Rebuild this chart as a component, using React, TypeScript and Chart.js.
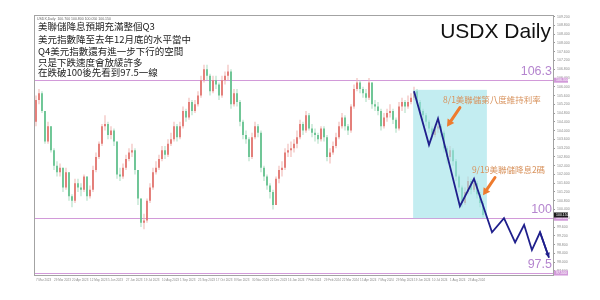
import { useEffect, useRef } from 'react';
import { Chart, registerables } from 'chart.js';

Chart.register(...registerables);

// Daily USDX bars (one bar per slot), oldest first
const firstOpen = 104.4;
const closes = [
  105.4, 105.7, 104.9, 103.5, 104.2, 103.1, 102.4, 102.1, 102.3, 101.4,
  102.1, 101.0, 100.8, 101.6, 101.4, 101.3, 101.9, 101.0, 101.3, 102.2,
  102.8, 103.4, 104.2, 104.3, 103.8, 104.0, 103.5, 102.0, 101.9, 102.3,
  102.7, 103.0, 103.1, 102.2, 100.9, 99.8, 99.9, 100.8, 101.4, 102.1,
  102.3, 102.7, 103.1, 102.9, 103.4, 103.6, 104.2, 103.7, 104.2, 104.9,
  104.6, 105.3, 104.9, 105.2, 105.6, 106.3, 106.8, 106.5, 105.8, 106.3,
  106.1, 105.6, 106.3, 106.5, 106.7, 105.2, 105.7, 105.3, 104.4, 103.8,
  103.6, 102.8, 103.7, 104.2, 103.9, 102.3, 101.9, 101.5, 101.2, 100.6,
  101.8, 102.2, 102.3, 103.0, 103.1, 103.2, 103.4, 103.7, 104.3, 104.0,
  104.7, 104.1, 103.9, 103.8, 103.6, 104.1, 103.7, 102.8, 103.0, 103.3,
  103.7, 104.2, 104.6, 104.2, 104.0, 105.1, 105.9, 106.2, 105.9, 105.7,
  105.5, 106.2, 105.2, 105.1, 104.9, 104.2, 104.6, 104.8, 104.9, 104.5,
  104.1, 105.1, 105.3, 105.1, 105.3, 105.5, 105.8, 105.3, 104.9, 104.7,
  104.4, 104.1, 103.8, 104.1, 104.2, 103.9, 103.2, 102.8, 103.1, 102.6,
  101.9, 101.4, 100.7, 101.2, 101.7, 101.3, 101.6, 101.1, 100.7, 100.15,
];
const highs = [
  105.6, 105.9, 105.8, 104.9, 104.4, 104.2, 103.2, 102.6, 102.5, 102.3,
  102.3, 102.1, 101.1, 101.8, 101.8, 101.6, 102.0, 101.9, 101.5, 102.4,
  103.0, 103.5, 104.3, 104.7, 104.4, 104.2, 104.1, 103.5, 102.3, 102.5,
  102.9, 103.2, 103.4, 103.2, 102.2, 100.9, 100.2, 100.9, 101.6, 102.3,
  102.6, 102.9, 103.3, 103.3, 103.6, 103.9, 104.4, 104.3, 104.4, 105.1,
  105.0, 105.5, 105.4, 105.4, 105.8, 106.5, 107.0, 107.0, 106.6, 106.5,
  106.5, 106.2, 106.5, 106.7, 107.0, 106.8, 105.9, 105.9, 105.4, 104.5,
  104.0, 103.7, 103.9, 104.4, 104.3, 104.0, 102.4, 102.0, 101.6, 101.3,
  101.9, 102.4, 102.6, 103.2, 103.4, 103.5, 103.6, 104.0, 104.5, 104.4,
  104.9, 104.8, 104.3, 104.1, 103.9, 104.2, 104.2, 103.8, 103.2, 103.5,
  103.9, 104.4, 104.8, 104.7, 104.3, 105.2, 106.1, 106.4, 106.3, 106.0,
  105.9, 106.4, 106.2, 105.4, 105.3, 105.0, 104.8, 105.0, 105.2, 105.0,
  104.6, 105.3, 105.5, 105.4, 105.6, 105.7, 106.0, 105.9, 105.4, 105.0,
  104.8, 104.5, 104.2, 104.3, 104.5, 104.3, 104.0, 103.3, 103.3, 103.2,
  102.7, 102.0, 101.5, 101.4, 101.9, 101.8, 101.8, 101.7, 101.2, 100.8,
];
const lows = [
  104.2, 105.2, 104.8, 103.4, 103.4, 103.0, 102.2, 101.9, 101.9, 101.2,
  101.3, 100.8, 100.5, 100.7, 101.2, 101.0, 101.2, 100.8, 100.9, 101.2,
  102.1, 102.7, 103.3, 104.0, 103.6, 103.6, 103.3, 101.8, 101.7, 101.8,
  102.2, 102.6, 102.8, 102.0, 100.6, 99.6, 99.5, 99.8, 100.7, 101.3,
  102.0, 102.2, 102.6, 102.7, 102.8, 103.3, 103.5, 103.5, 103.6, 104.1,
  104.4, 104.5, 104.7, 104.8, 105.1, 105.5, 106.2, 106.3, 105.6, 105.7,
  105.9, 105.4, 105.5, 106.1, 106.3, 105.0, 105.1, 105.1, 104.2, 103.6,
  103.4, 102.6, 102.7, 103.6, 103.7, 102.1, 101.7, 101.3, 100.9, 100.4,
  100.6, 101.6, 101.9, 102.2, 102.8, 102.8, 103.0, 103.2, 103.6, 103.8,
  103.9, 104.0, 103.7, 103.5, 103.4, 103.5, 103.5, 102.6, 102.5, 102.9,
  103.2, 103.6, 104.1, 104.0, 103.8, 103.9, 105.0, 105.8, 105.7, 105.5,
  105.3, 105.4, 105.0, 104.9, 104.7, 104.0, 104.1, 104.4, 104.6, 104.3,
  103.9, 104.0, 104.9, 104.8, 105.0, 105.2, 105.4, 105.2, 104.7, 104.5,
  104.2, 103.9, 103.6, 103.7, 103.9, 103.7, 103.0, 102.5, 102.6, 102.4,
  101.7, 101.2, 100.5, 100.6, 101.1, 101.1, 101.2, 100.9, 100.5, 100.05,
];

// Time axis labels, one every six bars
const tickBars = [0, 6, 12, 18, 24, 30, 36, 42, 48, 54, 60, 66, 72, 78, 84, 90, 96, 102, 108, 114, 120, 126, 132, 138, 144];
const dateLabels = [
  '7 Mar 2023', '29 Mar 2023', '20 Apr 2023', '12 May 2023', '5 Jun 2023', '27 Jun 2023',
  '19 Jul 2023', '10 Aug 2023', '1 Sep 2023', '25 Sep 2023', '17 Oct 2023', '8 Nov 2023',
  '30 Nov 2023', '22 Dec 2023', '16 Jan 2024', '7 Feb 2024', '29 Feb 2024', '22 Mar 2024',
  '15 Apr 2024', '7 May 2024', '29 May 2024', '19 Jun 2024', '10 Jul 2024', '1 Aug 2024', '23 Aug 2024',
];
const priceTicks = [
  97.6, 98.0, 98.4, 98.8, 99.2, 99.6, 100.0, 100.4, 100.8, 101.2, 101.6, 102.0, 102.4, 102.8, 103.2,
  103.6, 104.0, 104.4, 104.8, 105.2, 105.6, 106.0, 106.4, 106.8, 107.2, 107.6, 108.0, 108.4, 108.8, 109.2,
];

// Projected path (bar slot, price)
const pathBars = [126, 131, 134, 141.3, 146, 152, 156, 159.7, 162.7, 165.3, 168, 171];
const pathPrices = [105.8, 103.35, 104.55, 100.55, 101.8, 99.36, 100.0, 98.9, 99.7, 98.55, 99.36, 98.2];

// Key levels
const levels = [106.3, 100, 97.5];
const levelLabels = ['106.3', '100', '97.5'];

// Highlighted decline zone: bar range and price range
const zoneBars = [125.7, 150.3];
const zonePrices = [105.86, 100];

// Commentary
const notes = [
  '美聯儲降息預期充滿整個Q3',
  '美元指數降至去年12月底的水平當中',
  'Q4美元指數還有進一步下行的空間',
  '只是下跌速度會放緩許多',
  '在跌破100後先看到97.5一線',
];
const eventTexts = ['8/1美聯儲第八度維持利率', '9/19美聯儲降息2碼'];
const eventTextAt = [[135.7, 105.4], [145.3, 102.23]];
const eventArrowFrom = [[141.3, 105.05], [153, 101.86]];
const eventArrowTo = [[137, 104.18], [149, 101.05]];

const opens = closes.map((c, i) => (i === 0 ? firstOpen : closes[i - 1]));
const rising = closes.map((c, i) => c >= opens[i]);

const BODY_INDEX = 1;

function arrow(ctx: CanvasRenderingContext2D, x0: number, y0: number, x1: number, y1: number, color: string, width: number, head: number, headW: number) {
  const ang = Math.atan2(y1 - y0, x1 - x0);
  const bx = x1 - Math.cos(ang) * head;
  const by = y1 - Math.sin(ang) * head;
  ctx.strokeStyle = color;
  ctx.fillStyle = color;
  ctx.lineWidth = width;
  ctx.lineCap = 'round';
  ctx.beginPath();
  ctx.moveTo(x0, y0);
  ctx.lineTo(bx, by);
  ctx.stroke();
  ctx.beginPath();
  ctx.moveTo(x1, y1);
  ctx.lineTo(bx + Math.sin(ang) * headW, by - Math.cos(ang) * headW);
  ctx.lineTo(bx - Math.sin(ang) * headW, by + Math.cos(ang) * headW);
  ctx.closePath();
  ctx.fill();
}

const LEVEL_COLOR = '#d29ad9';
const LEVEL_TEXT = '#b585cf';
const SANS = '"Liberation Sans", Arial, sans-serif';
const CJK = '"Noto Sans CJK TC", "Noto Sans CJK SC", sans-serif';

const overlay = {
  id: 'overlay',
  beforeDatasetsDraw(chart: any) {
    const { ctx, chartArea: a, scales } = chart;
    const { y } = scales;
    ctx.save();
    ctx.strokeStyle = LEVEL_COLOR;
    ctx.lineWidth = 1;
    levels.forEach((v) => {
      const py = Math.round(y.getPixelForValue(v)) + 0.5;
      ctx.beginPath();
      ctx.moveTo(a.left, py);
      ctx.lineTo(a.right, py);
      ctx.stroke();
    });
    ctx.restore();
  },
  afterDatasetDraw(chart: any, args: any) {
    if (args.index !== BODY_INDEX) return;
    // shaded zone laid over the bars, under the projected path
    const { ctx, scales } = chart;
    const { x, y } = scales;
    const zx0 = x.getPixelForValue(zoneBars[0]);
    const zx1 = x.getPixelForValue(zoneBars[1]);
    const zy0 = y.getPixelForValue(zonePrices[0]);
    const zy1 = y.getPixelForValue(zonePrices[1]);
    ctx.save();
    ctx.fillStyle = 'rgba(158, 226, 233, 0.62)';
    ctx.fillRect(zx0, zy0, zx1 - zx0, zy1 - zy0);
    ctx.restore();
  },
  afterDatasetsDraw(chart: any) {
    const { ctx, chartArea: a, scales } = chart;
    const { x, y } = scales;
    ctx.save();

    // arrowhead at the end of the projected path
    const n = pathBars.length;
    arrow(
      ctx,
      x.getPixelForValue(pathBars[n - 2]), y.getPixelForValue(pathPrices[n - 2]),
      x.getPixelForValue(pathBars[n - 1]), y.getPixelForValue(pathPrices[n - 1]),
      '#1f1f8c', 1.8, 5, 2.5,
    );

    // event arrows and captions
    eventTexts.forEach((t, i) => {
      arrow(
        ctx,
        x.getPixelForValue(eventArrowFrom[i][0]), y.getPixelForValue(eventArrowFrom[i][1]),
        x.getPixelForValue(eventArrowTo[i][0]), y.getPixelForValue(eventArrowTo[i][1]),
        '#ee7b2e', 3, 7, 4,
      );
      ctx.font = `8.5px ${CJK}`;
      ctx.fillStyle = '#d8925c';
      ctx.textAlign = 'left';
      ctx.textBaseline = 'middle';
      ctx.fillText(t, x.getPixelForValue(eventTextAt[i][0]), y.getPixelForValue(eventTextAt[i][1]));
    });

    // level captions
    ctx.font = `12.5px ${SANS}`;
    ctx.fillStyle = LEVEL_TEXT;
    ctx.textAlign = 'right';
    ctx.textBaseline = 'bottom';
    levels.forEach((v, i) => {
      ctx.fillText(levelLabels[i], a.right - 1, y.getPixelForValue(v) - 2);
    });

    // title
    ctx.font = `21px ${SANS}`;
    ctx.fillStyle = '#111';
    ctx.textAlign = 'right';
    ctx.textBaseline = 'alphabetic';
    ctx.fillText('USDX Daily', a.right - 2, a.top + 22);

    // commentary block
    ctx.font = `9.5px ${CJK}`;
    ctx.fillStyle = '#222';
    ctx.textAlign = 'left';
    ctx.textBaseline = 'middle';
    const rows = [10.7, 23, 35.3, 46, 56];
    notes.forEach((t, i) => ctx.fillText(t, a.left + 3, a.top + rows[i]));

    // symbol header
    ctx.font = `3.5px ${SANS}`;
    ctx.fillStyle = '#666';
    ctx.textBaseline = 'top';
    const last = closes.length - 1;
    ctx.fillText(
      `USDX,Daily  ${opens[last].toFixed(3)} ${highs[last].toFixed(3)} ${lows[last].toFixed(3)} ${closes[last].toFixed(3)}`,
      a.left + 2, a.top + 1,
    );
    ctx.restore();
  },
  afterDraw(chart: any) {
    const { ctx, chartArea: a, scales } = chart;
    const { y } = scales;
    ctx.save();
    ctx.strokeStyle = '#a3a3a3';
    ctx.lineWidth = 1;
    ctx.strokeRect(a.left - 0.5, a.top - 0.5, a.right - a.left + 1, a.bottom - a.top + 1);

    // price tags on the axis
    ctx.font = `3.5px ${SANS}`;
    ctx.textAlign = 'left';
    ctx.textBaseline = 'middle';
    const tag = (v: number, bg: string) => {
      const py = y.getPixelForValue(v);
      ctx.fillStyle = bg;
      ctx.fillRect(a.right + 1, py - 2.5, 14, 5);
      ctx.fillStyle = '#fff';
      ctx.fillText(v.toFixed(3), a.right + 3, py);
    };
    levels.forEach((v) => tag(v, LEVEL_COLOR));
    tag(closes[closes.length - 1], '#1b1b1b');
    ctx.restore();
  },
};

export default function App() {
  const ref = useRef<HTMLCanvasElement>(null);

  useEffect(() => {
    if (!ref.current) return;
    const chart = new Chart(ref.current, {
      type: 'bar',
      data: {
        datasets: [
          {
            type: 'line',
            data: pathBars.map((b, i) => ({ x: b, y: pathPrices[i] })),
            borderColor: '#1f1f8c',
            borderWidth: 1.8,
            pointRadius: 0,
            tension: 0,
            order: 0,
          } as any,
          {
            type: 'bar',
            data: closes.map((c, i) => ({ x: i, y: [opens[i], c] })),
            backgroundColor: rising.map((u) => (u ? '#e06a64' : '#58bd86')),
            grouped: false,
            maxBarThickness: 1.6,
            minBarLength: 1,
            order: 1,
          } as any,
          {
            type: 'bar',
            data: highs.map((h, i) => ({ x: i, y: [lows[i], h] })),
            backgroundColor: rising.map((u) => (u ? '#efb2ae' : '#a9dcc0')),
            grouped: false,
            maxBarThickness: 1,
            order: 2,
          } as any,
        ],
      },
      options: {
        responsive: false,
        devicePixelRatio: 1,
        animation: false,
        events: [],
        layout: { padding: { left: 35, top: 16, right: 0, bottom: 0 } },
        plugins: { legend: { display: false }, tooltip: { enabled: false } },
        scales: {
          x: {
            type: 'linear',
            min: -0.33,
            max: 172.33,
            offset: false,
            grid: { display: false, drawTicks: false },
            border: { display: false },
            ticks: {
              autoSkip: false,
              maxRotation: 0,
              align: 'start',
              padding: 3,
              color: '#8a8a8a',
              font: { size: 3, family: SANS },
              callback: (v: any) => {
                const k = tickBars.indexOf(Number(v));
                return k >= 0 ? dateLabels[k] : '';
              },
            },
            afterBuildTicks: (s: any) => {
              s.ticks = tickBars.map((v) => ({ value: v }));
            },
            afterFit: (s: any) => {
              s.height = 25;
            },
          },
          y: {
            position: 'right',
            min: 97.41,
            max: 109.23,
            grid: { drawOnChartArea: false, tickLength: 2, color: '#999' },
            border: { display: false },
            ticks: {
              padding: 2,
              color: '#8a8a8a',
              font: { size: 3.5, family: SANS },
              callback: (v: any) => Number(v).toFixed(3),
            },
            afterBuildTicks: (s: any) => {
              s.ticks = priceTicks.map((v) => ({ value: v }));
            },
            afterFit: (s: any) => {
              s.width = 47;
            },
          },
        },
      } as any,
      plugins: [overlay],
    });
    return () => chart.destroy();
  }, []);

  return (
    <canvas
      ref={ref}
      width={600}
      height={300}
      style={{ position: 'fixed', left: 0, top: 0, display: 'block', background: '#fff' }}
    />
  );
}
